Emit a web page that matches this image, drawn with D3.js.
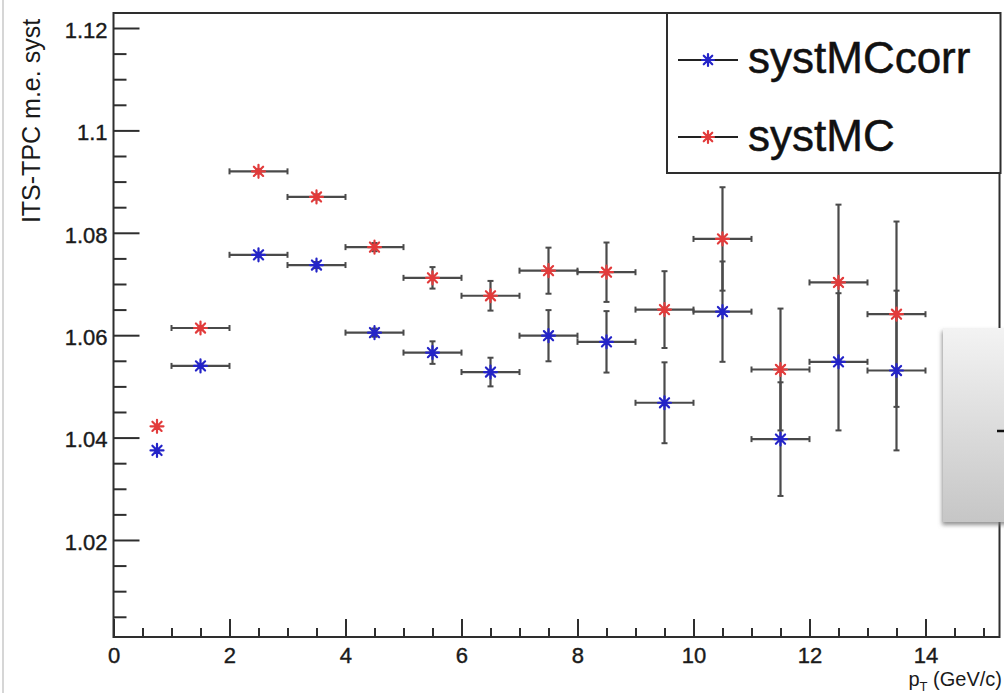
<!DOCTYPE html>
<html>
<head>
<meta charset="utf-8">
<script src="https://cdn.jsdelivr.net/npm/d3@7"></script>
<style>
  html, body { margin: 0; padding: 0; background: #fff; }
  svg { display: block; }
  text { font-family: "Liberation Sans", Arial, Helvetica, sans-serif; }
</style>
</head>
<body>
<svg id="chart" width="1004" height="693"></svg>
<script>
// ---- data ----
const ptBins    = [0.75, 1.5, 2.5, 3.5, 4.5, 5.5, 6.5, 7.5, 8.5, 9.5, 10.5, 11.5, 12.5, 13.5];
const ptHalfWidth = [0, 0.5, 0.5, 0.5, 0.5, 0.5, 0.5, 0.5, 0.5, 0.5, 0.5, 0.5, 0.5, 0.5];
const systMCcorr    = [1.0375, 1.0540, 1.0757, 1.0737, 1.0605, 1.0566, 1.0528, 1.0599, 1.0587, 1.0468, 1.0646, 1.0397, 1.0548, 1.0531];
const systMCcorrErr = [0.0003, 0.0004, 0.0004, 0.0006, 0.0008, 0.0022, 0.0028, 0.0050, 0.0060, 0.0079, 0.0098, 0.0111, 0.0134, 0.0156];
const systMC        = [1.0422, 1.0614, 1.0920, 1.0870, 1.0772, 1.0712, 1.0677, 1.0726, 1.0723, 1.0650, 1.0788, 1.0533, 1.0703, 1.0641];
const systMCErr     = [0.0003, 0.0004, 0.0004, 0.0005, 0.0008, 0.0021, 0.0029, 0.0045, 0.0058, 0.0075, 0.0101, 0.0119, 0.0152, 0.0181];
const seriesNames   = ["systMCcorr", "systMC"];
const seriesColors  = ["#2424c8", "#e23b3b"];
const yTickValues   = [1.02, 1.04, 1.06, 1.08, 1.10, 1.12];
const xTickValues   = [0, 2, 4, 6, 8, 10, 12, 14];
const yTitle = "ITS-TPC m.e. syst";

// ---- layout ----
const svg = d3.select("#chart");
const L = 113.5, R = 999.5, T = 13, B = 637;
const x = d3.scaleLinear().domain([0, 15.276]).range([L, R]);
const y = d3.scaleLinear().domain([1.00105, 1.12293]).range([B, T]);
const axisColor = "#2e2e2e";

// outer canvas edge
svg.append("line").attr("x1", 3).attr("x2", 3).attr("y1", 0).attr("y2", 693)
  .attr("stroke", "#c9c9c9").attr("stroke-width", 1.5);

// minor ticks
const yMinor = d3.range(1.005, 1.1226, 0.005).filter(v => !yTickValues.some(t => Math.abs(t - v) < 1e-6));
const xMinor = d3.range(0.5, 15.26, 0.5).filter(v => !xTickValues.some(t => Math.abs(t - v) < 1e-6));

const gYMinor = svg.append("g").attr("transform", `translate(${L},0)`)
  .call(d3.axisLeft(y).tickValues(yMinor).tickSize(-13).tickFormat(""));
const gXMinor = svg.append("g").attr("transform", `translate(0,${B})`)
  .call(d3.axisBottom(x).tickValues(xMinor).tickSize(-9).tickFormat(""));

const gY = svg.append("g").attr("transform", `translate(${L},0)`)
  .call(d3.axisLeft(y).tickValues(yTickValues).tickSize(-26).tickPadding(6)
    .tickFormat(d => String(+d.toFixed(2))));
const gX = svg.append("g").attr("transform", `translate(0,${B})`)
  .call(d3.axisBottom(x).tickValues(xTickValues).tickSize(-18).tickPadding(10)
    .tickFormat(d3.format("d")));

[gYMinor, gXMinor, gY, gX].forEach(g => {
  g.select(".domain").remove();
  g.selectAll(".tick line").attr("stroke", axisColor).attr("stroke-width", 2);
  g.selectAll("text").attr("fill", "#1a1a1a").attr("font-size", 22)
    .attr("stroke", "#1a1a1a").attr("stroke-width", 0.4);
});
gY.selectAll("text").attr("dy", "0.42em");

// frame
svg.append("rect").attr("x", L).attr("y", T).attr("width", R - L).attr("height", B - T)
  .attr("fill", "none").attr("stroke", axisColor).attr("stroke-width", 2);

// axis titles
svg.append("text")
  .attr("transform", `translate(40,${T + 108}) rotate(-90)`)
  .attr("text-anchor", "middle").attr("font-size", 25).attr("fill", "#1a1a1a")
  .text(yTitle);

const xt = svg.append("text").attr("x", 1002).attr("y", 686)
  .attr("text-anchor", "end").attr("font-size", 20).attr("fill", "#1a1a1a");
xt.append("tspan").text("p");
xt.append("tspan").attr("font-size", 13).attr("dy", 5).text("T");
xt.append("tspan").attr("dy", -5).text(" (GeV/c)");

// markers: ROOT style 3 asterisk
function asterisk(g, cx, cy, r, color) {
  const d = r * Math.SQRT1_2;
  const p = `M${cx - r},${cy}H${cx + r}M${cx},${cy - r}V${cy + r}` +
            `M${cx - d},${cy - d}L${cx + d},${cy + d}M${cx - d},${cy + d}L${cx + d},${cy - d}`;
  g.append("path").attr("d", p).attr("stroke", color).attr("stroke-width", 2.2)
    .attr("fill", "none").attr("stroke-linecap", "round");
}

const series = [
  { name: seriesNames[0], vals: systMCcorr, errs: systMCcorrErr, color: seriesColors[0] },
  { name: seriesNames[1], vals: systMC, errs: systMCErr, color: seriesColors[1] }
];

const errColor = "#4a4a4a";
const plot = svg.append("g");
series.forEach(s => {
  const g = plot.append("g");
  ptBins.forEach((px, i) => {
    const cx = x(px), cy = y(s.vals[i]);
    const hw = ptHalfWidth[i];
    if (hw > 0) {
      const x0 = x(px - hw), x1 = x(px + hw);
      g.append("line").attr("x1", x0).attr("x2", x1).attr("y1", cy).attr("y2", cy)
        .attr("stroke", errColor).attr("stroke-width", 2.2);
      [x0, x1].forEach(xx => g.append("line").attr("x1", xx).attr("x2", xx)
        .attr("y1", cy - 3).attr("y2", cy + 3).attr("stroke", errColor).attr("stroke-width", 2));
    }
    const e = s.errs[i];
    const y0 = y(s.vals[i] + e), y1 = y(s.vals[i] - e);
    if (y1 - y0 > 4) {
      g.append("line").attr("x1", cx).attr("x2", cx).attr("y1", y0).attr("y2", y1)
        .attr("stroke", errColor).attr("stroke-width", 2.2);
      [y0, y1].forEach(yy => g.append("line").attr("x1", cx - 3).attr("x2", cx + 3)
        .attr("y1", yy).attr("y2", yy).attr("stroke", errColor).attr("stroke-width", 2));
    }
  });
});
series.forEach(s => {
  const g = plot.append("g");
  ptBins.forEach((px, i) => asterisk(g, x(px), y(s.vals[i]), 6.5, s.color));
});

// legend
const lg = svg.append("g");
lg.append("rect").attr("x", 667).attr("y", T).attr("width", 1000.5 - 667).attr("height", 173 - T)
  .attr("fill", "#fff").attr("stroke", axisColor).attr("stroke-width", 2);
const legendY = [60, 137], legendBase = [73, 151];
series.forEach((s, i) => {
  lg.append("line").attr("x1", 678).attr("x2", 738).attr("y1", legendY[i]).attr("y2", legendY[i])
    .attr("stroke", "#222").attr("stroke-width", 2);
  asterisk(lg, 708, legendY[i], 6, s.color);
  lg.append("text").attr("x", 748).attr("y", legendBase[i]).attr("font-size", 44)
    .attr("fill", "#111").attr("stroke", "#111").attr("stroke-width", 0.5).text(s.name);
});

// gray overlay box on the right edge
const defs = svg.append("defs");
const grad = defs.append("linearGradient").attr("id", "boxgrad")
  .attr("x1", 0).attr("x2", 0).attr("y1", 0).attr("y2", 1);
grad.append("stop").attr("offset", "0%").attr("stop-color", "#f3f3f3");
grad.append("stop").attr("offset", "100%").attr("stop-color", "#c6c6c6");
const flt = defs.append("filter").attr("id", "shadow").attr("x", "-20%").attr("y", "-20%")
  .attr("width", "140%").attr("height", "140%");
flt.append("feDropShadow").attr("dx", -1).attr("dy", 3).attr("stdDeviation", 2)
  .attr("flood-color", "#777").attr("flood-opacity", 0.8);
svg.append("rect").attr("x", 943).attr("y", 328).attr("width", 75).attr("height", 194)
  .attr("fill", "url(#boxgrad)").attr("filter", "url(#shadow)");
svg.append("line").attr("x1", 997).attr("x2", 1004).attr("y1", 431).attr("y2", 431)
  .attr("stroke", "#111").attr("stroke-width", 2.5);
</script>
</body>
</html>
